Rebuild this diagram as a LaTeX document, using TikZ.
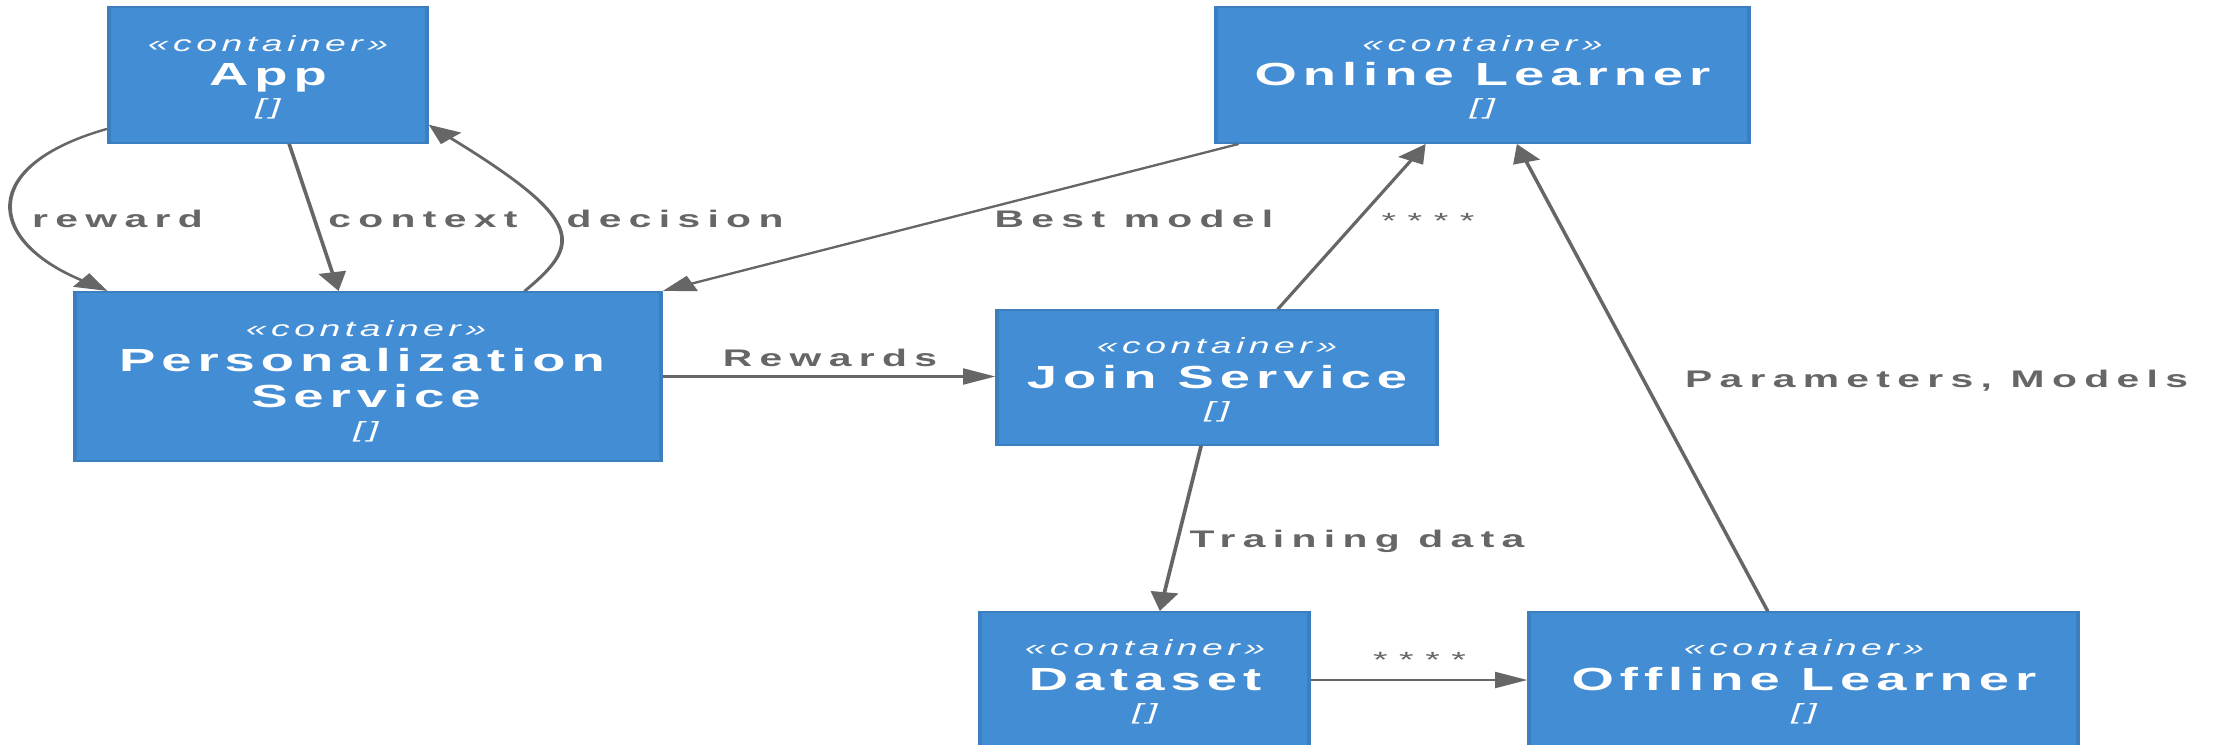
\documentclass[tikz,border=0pt]{standalone}
\usepackage{fontspec}
\setmainfont{Liberation Sans}
\newfontfamily\lsTitle[LetterSpace=11]{Liberation Sans}
\newfontfamily\lsSt[LetterSpace=12]{Liberation Sans}
\newfontfamily\lsLab[LetterSpace=18]{Liberation Sans}
\newfontfamily\lsStar[LetterSpace=3]{Liberation Sans}
\usetikzlibrary{arrows.meta,fit,calc}
\definecolor{cfill}{HTML}{438DD5}
\definecolor{cborder}{HTML}{3C7FC0}
\definecolor{edgegray}{HTML}{666666}
\tikzset{
  cbox/.style={draw=cborder, fill=cfill, line width=2pt, inner sep=0pt, rectangle},
  sttext/.style={anchor=base, text=white, font=\lsSt\itshape\fontsize{22}{26}\selectfont, inner sep=0pt},
  tttext/.style={anchor=base, text=white, font=\lsTitle\bfseries\fontsize{32}{38}\selectfont, inner sep=0pt},
  elabel/.style={anchor=base, text=edgegray, font=\lsLab\bfseries\fontsize{24}{28}\selectfont, inner sep=0pt},
  slabel/.style={anchor=base, text=edgegray, font=\lsStar\fontsize{22}{26}\selectfont, inner sep=0pt},
  conn/.style={draw=edgegray, line width=2.2pt, -{Triangle[length=19pt,width=16pt]}},
}
\begin{document}
\begin{tikzpicture}
\fill[white] (0,0) rectangle (2213pt,-744pt);
\useasboundingbox (0,0) rectangle (2213pt,-744pt);
\begin{scope}[transform canvas={xscale=1.7}, x=0.588235pt, y=-1pt]
  % boxes
  \node[cbox, fit={(109,7) (427,143)}] (app) {};
  \node[cbox, fit={(1216,7) (1749,143)}] (ol) {};
  \node[cbox, fit={(75,292) (661,461)}] (ps) {};
  \node[cbox, fit={(997,310) (1437,445)}] (join) {};
  \node[cbox, fit={(980,612) (1309,748)}] (ds) {};
  \node[cbox, fit={(1529,612) (2078,748)}] (off) {};
  % box texts
  \node[sttext] (appS) at (268,51) {«container»};
  \node[tttext] (appT) at (268,85.5) {App};
  \node[sttext] (appB) at (268,114.5) {[]};
  \node[sttext] (olS) at (1482.5,51) {«container»};
  \node[tttext] (olT) at (1482.5,85.5) {Online Learner};
  \node[sttext] (olB) at (1482.5,114.5) {[]};
  \node[sttext] (psS) at (366,336) {«container»};
  \node[tttext] (psT1) at (362,371) {Personalization};
  \node[tttext] (psT2) at (366,407) {Service};
  \node[sttext] (psB) at (366,437) {[]};
  \node[sttext] (joinS) at (1217,353) {«container»};
  \node[tttext] (joinT) at (1217,388) {Join Service};
  \node[sttext] (joinB) at (1217,417.5) {[]};
  \node[sttext] (dsS) at (1145,655) {«container»};
  \node[tttext] (dsT) at (1145,690) {Dataset};
  \node[sttext] (dsB) at (1145,719) {[]};
  \node[sttext] (offS) at (1804,655) {«container»};
  \node[tttext] (offT) at (1804,690) {Offline Learner};
  \node[sttext] (offB) at (1804,719) {[]};
  % connectors
  \draw[conn] ($(app.north west)!0.89!(app.south west)$) .. controls (-21,165) and (-15,240) .. ($(ps.north west)!0.058!(ps.north east)$);
  \draw[conn] ($(app.south west)!0.566!(app.south east)$) -- ($(ps.north west)!0.45!(ps.north east)$);
  \draw[conn] ($(ps.north west)!0.766!(ps.north east)$) .. controls (580,245) and (588,222) .. ($(app.north east)!0.86!(app.south east)$);
  \draw[conn] ($(ol.south west)!0.045!(ol.south east)$) -- (ps.north east);
  \draw[conn] (ps.east) -- (ps.east -| join.west);
  \draw[conn] ($(join.north west)!0.6375!(join.north east)$) -- ($(ol.south west)!0.394!(ol.south east)$);
  \draw[conn] ($(join.south west)!0.464!(join.south east)$) -- ($(ds.north west)!0.546!(ds.north east)$);
  \draw[conn] (ds.east) -- (ds.east -| off.west);
  \draw[conn] ($(off.north west)!0.435!(off.north east)$) -- ($(ol.south west)!0.564!(ol.south east)$);
  % labels
  \node[elabel] (lreward) at (117.5,227) {reward};
  \node[elabel] (lcontext) at (423,227) {context};
  \node[elabel] (ldecision) at (675,227) {decision};
  \node[elabel] (lbest) at (1134,227) {Best model};
  \node[slabel] (lstar1) at (1428,228) {* * * *};
  \node[elabel] (lrewards) at (830,366) {Rewards};
  \node[elabel] (ltrain) at (1357,547) {Training data};
  \node[slabel] (lstar2) at (1419.5,667) {* * * *};
  \node[elabel] (lparams) at (1936.5,387) {Parameters, Models};
\end{scope}
\end{tikzpicture}
\end{document}
